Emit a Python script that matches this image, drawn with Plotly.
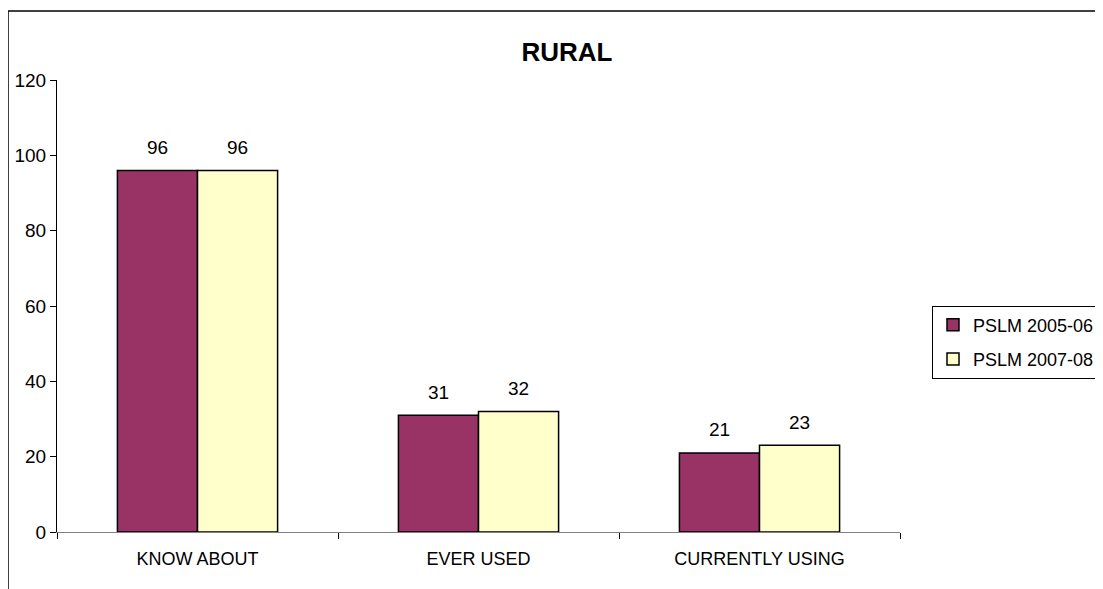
import plotly.graph_objects as go

categories = ["KNOW ABOUT", "EVER USED", "CURRENTLY USING"]
series_names = ["PSLM 2005-06", "PSLM 2007-08"]
values_2005 = [96, 31, 21]
values_2007 = [96, 32, 23]
colors = ["#993366", "#FFFFCC"]

W, H = 1103, 589
OFF = 8  # page body margin offset
ML, MT = 57 - OFF, 80 - OFF
PLOT_R, PLOT_B = 900 - OFF, 532 - OFF
MR, MB = W - PLOT_R, H - PLOT_B
PW, PH = W - ML - MR, H - MT - MB
BARGAP = 0.43

def px_x(x):
    return (x - OFF - ML) / PW

def px_y(y):
    return (PLOT_B - (y - OFF)) / PH

fig = go.Figure()
all_series = [values_2005, values_2007]
for i, (name, vals, col) in enumerate(zip(series_names, all_series, colors)):
    fig.add_trace(go.Bar(
        x=categories, y=vals, name=name, legendgroup=f"g{i}",
        marker=dict(color=col, line=dict(color="black", width=1.5)),
        cliponaxis=False,
    ))

# value labels above bars
bar_px = PW / len(categories) * (1 - BARGAP) / len(all_series)
for i, vals in enumerate(all_series):
    for cat, v in zip(categories, vals):
        fig.add_annotation(x=cat, y=v, xref="x", yref="y", text=str(v),
                           showarrow=False, xanchor="center", yanchor="middle",
                           xshift=(i - (len(all_series) - 1) / 2) * bar_px, yshift=23,
                           font=dict(size=19, color="black"))

fig.update_layout(
    width=W, height=H,
    margin=dict(l=ML, r=MR, t=MT, b=MB, autoexpand=False),
    paper_bgcolor="white", plot_bgcolor="white",
    font=dict(family="Liberation Sans", size=17, color="black"),
    barmode="group", bargap=BARGAP, bargroupgap=0,
    title=dict(text="<b>RURAL</b>", x=px_x(567), xref="paper", xanchor="center",
               y=1 - (52 - OFF) / H, yanchor="middle", font=dict(size=26, color="black")),
    legend=dict(x=px_x(932), xanchor="left", y=px_y(342), yanchor="middle",
                bordercolor="black", borderwidth=1, bgcolor="white",
                font=dict(size=18), itemwidth=30, tracegroupgap=8),
    showlegend=True,
)
fig.update_xaxes(showline=True, linecolor="#808080", linewidth=1, automargin=False,
                 ticks="outside", tickson="boundaries", ticklen=6, tickcolor="black",
                 showgrid=False, tickfont=dict(size=18), ticklabelstandoff=10)
fig.update_yaxes(range=[0, 120], dtick=20, showline=True, linecolor="black", linewidth=1,
                 automargin=False,
                 ticks="outside", ticklen=6, tickcolor="black", showgrid=False,
                 zeroline=False, tickfont=dict(size=19))

# outer frame of the chart area
fig.add_shape(type="line", xref="paper", yref="paper",
              x0=px_x(8), x1=px_x(W + 20), y0=px_y(11), y1=px_y(11),
              line=dict(color="black", width=1.5))
fig.add_shape(type="line", xref="paper", yref="paper",
              x0=px_x(8), x1=px_x(8), y0=px_y(11), y1=px_y(H + 20),
              line=dict(color="black", width=1.5))

fig.write_html("out.html")
